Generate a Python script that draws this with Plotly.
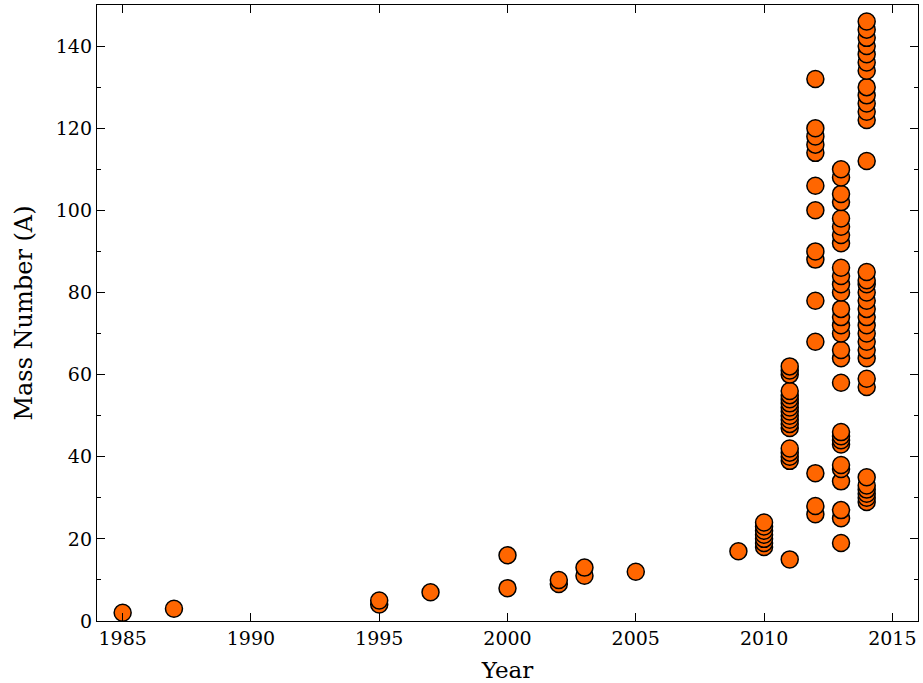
import plotly.graph_objects as go

# Mass numbers of the isotopes, grouped by discovery year
years = [1985, 1987, 1995, 1997, 2000, 2002, 2003, 2005, 2009, 2010, 2011, 2012, 2013, 2014]
mass_1985 = [2]
mass_1987 = [3]
mass_1995 = [4, 5]
mass_1997 = [7]
mass_2000 = [8, 16]
mass_2002 = [9, 10]
mass_2003 = [11, 13]
mass_2005 = [12]
mass_2009 = [17]
mass_2010 = [18, 19, 20, 21, 22, 23, 24]
mass_2011 = [15, 39, 40, 41, 42, 47, 48, 49, 50, 51, 52, 53, 54, 55, 56, 60, 61, 62]
mass_2012 = [26, 28, 36, 68, 78, 88, 90, 100, 106, 114, 116, 118, 120, 132]
mass_2013 = [19, 25, 27, 34, 37, 38, 43, 44, 45, 46, 58, 64, 66, 70, 72, 74, 76,
             80, 82, 84, 86, 92, 94, 96, 98, 102, 104, 108, 110]
mass_2014 = [29, 30, 31, 32, 33, 35, 57, 59, 64, 66, 68, 70, 72, 74, 76, 78, 80,
             82, 83, 85, 112, 122, 124, 126, 128, 130, 134, 136, 138, 140, 142, 144, 146]

mass_by_year = [mass_1985, mass_1987, mass_1995, mass_1997, mass_2000, mass_2002,
                mass_2003, mass_2005, mass_2009, mass_2010, mass_2011, mass_2012,
                mass_2013, mass_2014]

x_ticks = [1985, 1990, 1995, 2000, 2005, 2010, 2015]
y_ticks = [0, 20, 40, 60, 80, 100, 120, 140]

xs, ys = [], []
for yr, masses in zip(years, mass_by_year):
    for a in masses:
        xs.append(yr)
        ys.append(a)

FONT = "DejaVu Serif, Liberation Serif, serif"

fig = go.Figure()
fig.add_trace(go.Scatter(
    x=xs, y=ys, mode="markers",
    marker=dict(size=17, color="#FF6600", line=dict(color="black", width=1.5)),
    cliponaxis=False,
    showlegend=False,
))

axis_common = dict(
    showgrid=False, zeroline=False,
    showline=True, linecolor="black", linewidth=1.3, mirror="ticks",
    ticks="inside", ticklen=8, tickwidth=1, tickcolor="black",
    tickfont=dict(family=FONT, size=19, color="black"),
)

fig.update_layout(
    width=923, height=683,
    margin=dict(l=97, r=5, t=5, b=62),
    paper_bgcolor="white", plot_bgcolor="white",
    font=dict(family=FONT, color="black"),
    xaxis=dict(
        range=[1984, 2016], tickvals=x_ticks, ticktext=[str(v) for v in x_ticks],
        title=dict(text="Year", font=dict(family=FONT, size=23), standoff=13),
        **axis_common,
    ),
    yaxis=dict(
        range=[0, 150], tickvals=y_ticks,
        title=dict(text="Mass Number (A)", font=dict(family=FONT, size=24), standoff=16),
        minor=dict(dtick=10, ticks="inside", ticklen=4, tickcolor="black", tickwidth=1),
        **axis_common,
    ),
)

fig.write_html("out.html")
